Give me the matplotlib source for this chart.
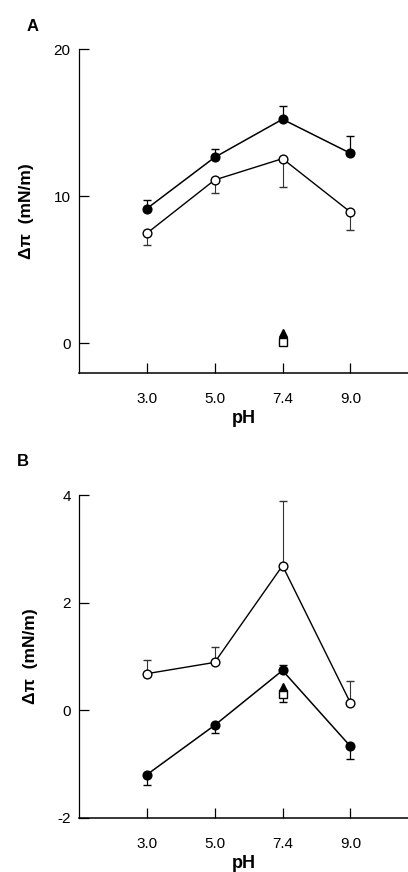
import numpy as np
import matplotlib
matplotlib.use('Agg')
import matplotlib.pyplot as plt

plt.rcParams['font.family'] = ['Liberation Sans', 'DejaVu Sans']
plt.rcParams['axes.unicode_minus'] = False

ph_labels = ['3.0', '5.0', '7.4', '9.0']
x = [1, 2, 3, 4]

# panel A
a_filled = [9.16, 12.65, 15.24, 12.93]
a_filled_err = [0.6, 0.6, 0.9, 1.2]
a_open = [7.48, 11.11, 12.56, 8.93]
a_open_err = [0.8, 0.87, 1.9, 1.2]
a_triangle = 0.7
a_square = 0.1

# panel B
b_open = [0.68, 0.89, 2.69, 0.14]
b_open_err = [0.26, 0.29, 1.21, 0.41]
b_filled = [-1.20, -0.28, 0.74, -0.67]
b_filled_err_low = [0.2, 0.14, 0.0, 0.23]
b_filled_err_up = [0.0, 0.0, 0.1, 0.0]
b_triangle = 0.43
b_square = 0.30
b_square_err = 0.14

fig = plt.figure(figsize=(4.08, 8.72), dpi=100)
axA = fig.add_axes([0.1936, 0.5726, 0.8064, 0.3709])
axB = fig.add_axes([0.1936, 0.0623, 0.8064, 0.3697])

ms = 6.3
cap = 3


def style(ax, ylim, yticks):
    ax.set_xlim(0, 4.85)
    ax.set_ylim(*ylim)
    ax.spines['top'].set_visible(False)
    ax.spines['right'].set_visible(False)
    ax.spines['left'].set_linewidth(0.9)
    ax.spines['bottom'].set_linewidth(1.1)
    ax.set_xticks(x)
    ax.set_xticklabels(ph_labels)
    ax.set_yticks(yticks)
    ax.tick_params(axis='both', direction='in', length=7, width=0.9, labelsize=11)
    ax.tick_params(axis='x', pad=14)
    ax.tick_params(axis='y', pad=6)
    ax.set_xlabel('pH', fontsize=13, fontweight='bold', labelpad=3)
    ax.set_ylabel('Δπ  (mN/m)', fontsize=12.5, fontweight='bold', labelpad=14)


# A
axA.errorbar(x, a_filled, yerr=[np.zeros(4), a_filled_err], color='black', marker='o',
             ms=ms, mfc='black', mec='black', lw=1.1, capsize=cap, elinewidth=0.9, zorder=3)
axA.errorbar(x, a_open, yerr=[a_open_err, np.zeros(4)], color='black', marker='o',
             ms=ms, mfc='white', mec='black', lw=1.0, capsize=cap, elinewidth=0.8,
             ecolor='#333333', zorder=3)
axA.plot(3, a_triangle, marker='^', ms=6, color='black', zorder=4)
axA.plot(3, a_square, marker='s', ms=5.5, mfc='white', mec='black', zorder=4)
style(axA, (-2, 20), [0, 10, 20])
axA.text(-0.16, 1.055, 'A', transform=axA.transAxes, fontsize=12, fontweight='bold')

# B
axB.errorbar(x, b_open, yerr=[np.zeros(4), b_open_err], color='black', marker='o',
             ms=ms, mfc='white', mec='black', lw=1.0, capsize=cap, elinewidth=0.8,
             ecolor='#333333', zorder=3)
axB.errorbar(x, b_filled, yerr=[b_filled_err_low, b_filled_err_up], color='black', marker='o',
             ms=ms, mfc='black', mec='black', lw=1.1, capsize=cap, elinewidth=0.9, zorder=3)
axB.errorbar(3, b_square, yerr=[[b_square_err], [0]], marker='s', ms=5.5, mfc='white',
             mec='black', ecolor='black', capsize=cap, elinewidth=0.9, zorder=4)
axB.plot(3, b_triangle, marker='^', ms=6, color='black', zorder=5)
style(axB, (-2, 4), [-2, 0, 2, 4])
axB.text(-0.19, 1.09, 'B', transform=axB.transAxes, fontsize=12, fontweight='bold')

fig.savefig('out.png', dpi=100)
